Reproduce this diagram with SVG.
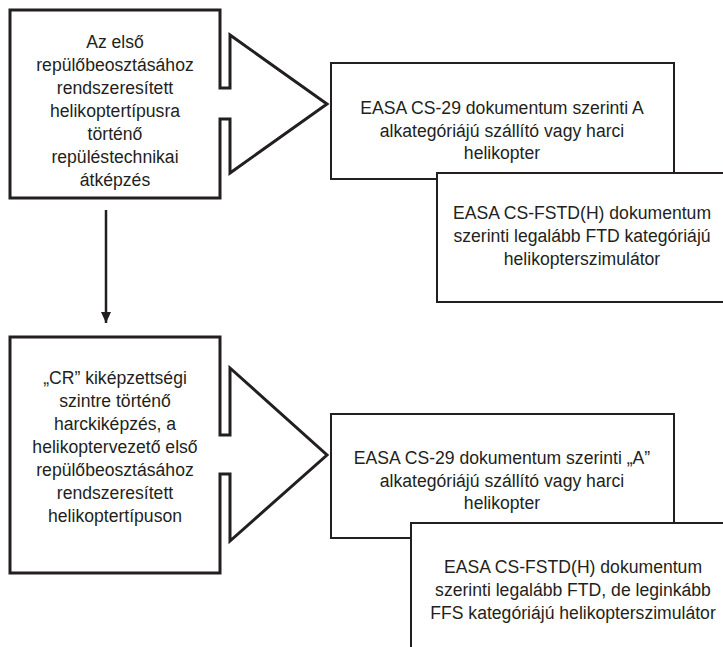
<svg xmlns="http://www.w3.org/2000/svg" width="723" height="647" viewBox="0 0 723 647">
<style>
.thick{fill:#fff;stroke:#231f20;stroke-width:3;stroke-linejoin:miter}
.thin{fill:#fff;stroke:#231f20;stroke-width:2}
text{font-family:"Liberation Sans",Arial,sans-serif;font-size:17.6px;fill:#231f20;text-anchor:middle}
</style>
<defs>
<marker id="ah" markerWidth="11" markerHeight="10" refX="11" refY="5" viewBox="0 0 11 10" orient="auto" markerUnits="userSpaceOnUse">
<path d="M0,0 L11,5 L0,10 Z" fill="#231f20"/>
</marker>
</defs>
<g id="node-training1">
<path class="thick" d="M10,10 H220 V88 H230 V35 L327,104 L230,173 V119 H220 V198 H10 Z"/>
<text x="115" y="48">Az első</text>
<text x="115" y="71">repülőbeosztásához</text>
<text x="115" y="94">rendszeresített</text>
<text x="115" y="117">helikoptertípusra</text>
<text x="115" y="140">történő</text>
<text x="115" y="163">repüléstechnikai</text>
<text x="115" y="186">átképzés</text>
</g>
<g id="node-heli1">
<rect class="thin" x="331" y="63" width="343" height="116"/>
<text x="502" y="114">EASA CS-29 dokumentum szerinti A</text>
<text x="502" y="137">alkategóriájú szállító vagy harci</text>
<text x="502" y="159">helikopter</text>
</g>
<g id="node-sim1">
<rect class="thin" x="437" y="173" width="300" height="129"/>
<text x="582" y="219">EASA CS-FSTD(H) dokumentum</text>
<text x="582" y="242">szerinti legalább FTD kategóriájú</text>
<text x="582" y="265">helikopterszimulátor</text>
</g>
<g id="node-training2">
<path class="thick" d="M10,337 H220 V435 H230 V368 L327,455 L230,541 V474 H220 V573 H10 Z"/>
<text x="115" y="384">„CR” kiképzettségi</text>
<text x="115" y="407">szintre történő</text>
<text x="115" y="430">harckiképzés, a</text>
<text x="115" y="453">helikoptervezető első</text>
<text x="115" y="476">repülőbeosztásához</text>
<text x="115" y="499">rendszeresített</text>
<text x="115" y="522">helikoptertípuson</text>
</g>
<g id="node-heli2">
<rect class="thin" x="331" y="414" width="343" height="124"/>
<text x="502" y="464">EASA CS-29 dokumentum szerinti „A”</text>
<text x="502" y="487">alkategóriájú szállító vagy harci</text>
<text x="502" y="509">helikopter</text>
</g>
<g id="node-sim2">
<rect class="thin" x="411" y="523" width="330" height="140"/>
<text x="573" y="573">EASA CS-FSTD(H) dokumentum</text>
<text x="573" y="596">szerinti legalább FTD, de leginkább</text>
<text x="573" y="619">FFS kategóriájú helikopterszimulátor</text>
</g>
<g id="connectors">
<line x1="106" y1="210" x2="106" y2="323" stroke="#231f20" stroke-width="2.5" marker-end="url(#ah)"/>
</g>
</svg>
